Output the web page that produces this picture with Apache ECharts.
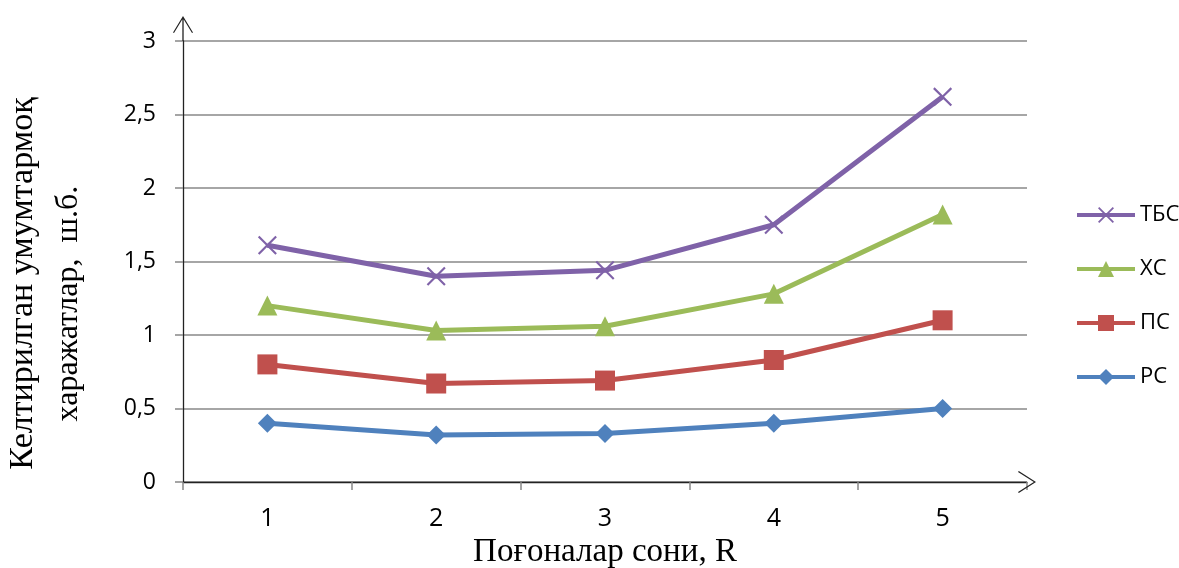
<!DOCTYPE html>
<html>
<head>
<meta charset="utf-8">
<script src="https://cdn.jsdelivr.net/npm/echarts@6/dist/echarts.min.js"></script>
<style>html,body{margin:0;padding:0;background:#fff}#c{width:1179px;height:568px}</style>
</head>
<body>
<div id="c"></div>
<script>
const categories = ['1', '2', '3', '4', '5'];
const seriesNames = ['РС', 'ПС', 'ХС', 'ТБС'];
const rsValues = [0.40, 0.32, 0.33, 0.40, 0.50];
const psValues = [0.80, 0.67, 0.69, 0.83, 1.10];
const xsValues = [1.20, 1.03, 1.06, 1.28, 1.82];
const tbsValues = [1.61, 1.40, 1.44, 1.75, 2.62];
const legendOrder = ['ТБС', 'ХС', 'ПС', 'РС'];
const yTitleLine1 = 'Келтирилган умумтармоқ';
const yTitleLine2 = 'харажатлар,  ш.б.';
const xTitle = 'Поғоналар сони, R';

const colors = { 'РС': '#4F81BD', 'ПС': '#C0504D', 'ХС': '#9BBB59', 'ТБС': '#7F62A8' };
const xMarker = 'path://M0,1.6L1.6,0L10,8.4L18.4,0L20,1.6L11.6,10L20,18.4L18.4,20L10,11.6L1.6,20L0,18.4L8.4,10Z';
const yArrow = 'path://M0,16.4L10,0L20,16.4L19,17L10,2.2L1,17Z M9.35,1L10.65,1L10.65,25L9.35,25Z';
const xArrow = 'path://M0,17.2L11,0L22,17.2L21,18L11,2.2L1,18Z';

const chart = echarts.init(document.getElementById('c'));
function lineSeries(name, data, symbol, size) {
  return {
    name: name, type: 'line', data: data, symbol: symbol, symbolSize: size,
    showAllSymbol: true,
    itemStyle: { color: colors[name] },
    lineStyle: { color: colors[name], width: 5 }
  };
}
chart.setOption({
  animation: false,
  backgroundColor: '#fff',
  grid: { left: 183, right: 152, top: 41, bottom: 86, outerBoundsMode: 'none', containLabel: false },
  legend: {
    orient: 'vertical', left: 1070, top: 199,
    data: legendOrder,
    itemWidth: 58, itemHeight: 20, itemGap: 32,
    lineStyle: { width: 4 },
    textStyle: { fontFamily: 'Open Sans', fontSize: 22, color: '#000' }
  },
  xAxis: {
    type: 'category', data: categories,
    name: xTitle, nameLocation: 'middle', nameGap: 54,
    nameTextStyle: { fontFamily: 'Liberation Serif', fontSize: 33, color: '#000' },
    axisLine: { lineStyle: { color: '#222', width: 1.3 }, symbol: ['none', xArrow], symbolSize: [22, 18], symbolOffset: [0, 0] },
    axisTick: { show: true, length: 8, lineStyle: { color: '#888', width: 1.5 } },
    axisLabel: { fontFamily: 'Open Sans', fontSize: 25, color: '#000', margin: 24 },
    splitLine: { show: false }
  },
  yAxis: {
    type: 'value', min: 0, max: 3, interval: 0.5,
    name: '{a|' + yTitleLine1 + '}\n{b|' + yTitleLine2 + '}',
    nameLocation: 'middle', nameRotate: 90, nameGap: 91,
    nameTextStyle: {
      padding: [0, 44, 0, 0],
      rich: {
        a: { fontFamily: 'Liberation Serif', fontSize: 34, lineHeight: 46, color: '#000' },
        b: { fontFamily: 'Liberation Serif', fontSize: 32, lineHeight: 46, color: '#000', padding: [0, 40, 0, 0] }
      }
    },
    axisLine: { show: true, lineStyle: { color: '#222', width: 1.3 }, symbol: ['none', yArrow], symbolSize: [20, 25], symbolOffset: [0, 12.5] },
    axisTick: { show: true, length: 8, lineStyle: { color: '#888', width: 1.5 } },
    axisLabel: {
      fontFamily: 'Open Sans', fontSize: 23, color: '#000', margin: 27,
      formatter: v => String(v).replace('.', ',')
    },
    splitLine: { show: true, lineStyle: { color: '#888', width: 1.5 } }
  },
  series: [
    lineSeries('РС', rsValues, 'diamond', 19),
    lineSeries('ПС', psValues, 'rect', 20),
    lineSeries('ХС', xsValues, 'triangle', 20),
    lineSeries('ТБС', tbsValues, xMarker, 19)
  ]
});
</script>
</body>
</html>
